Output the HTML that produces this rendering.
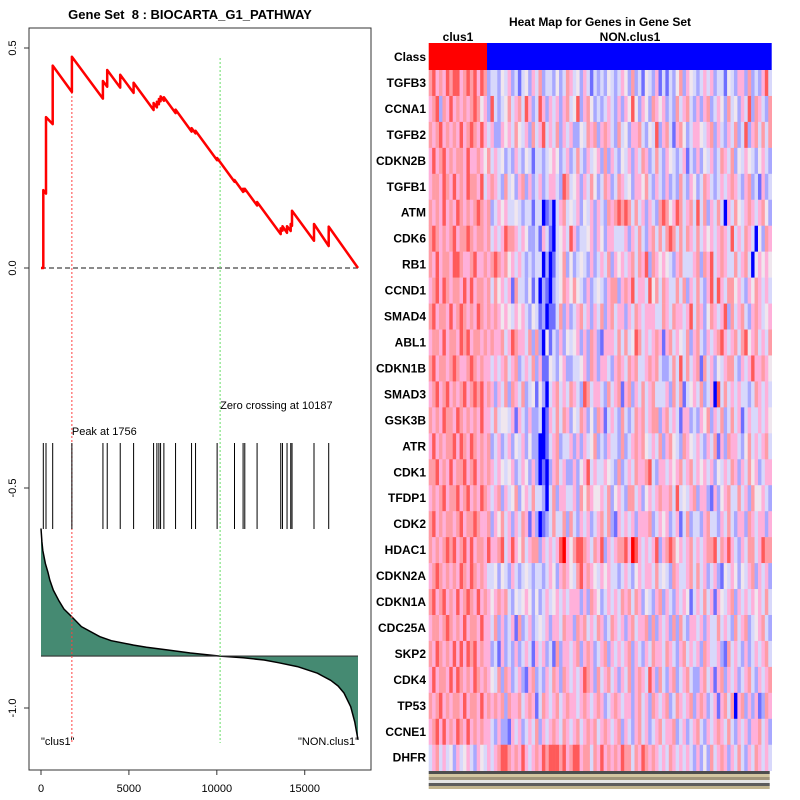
<!DOCTYPE html>
<html><head><meta charset="utf-8">
<style>
html,body{margin:0;padding:0;background:#fff;}
svg{display:block;font-family:"Liberation Sans",sans-serif;}
</style></head>
<body>
<svg id="chart" width="800" height="800" viewBox="0 0 800 800" xmlns="http://www.w3.org/2000/svg">
<rect width="800" height="800" fill="#fff"/>
<text x="190" y="19" font-size="13" font-weight="bold" text-anchor="middle" xml:space="preserve" style="white-space:pre">Gene Set  8 : BIOCARTA_G1_PATHWAY</text>
<rect x="29" y="28" width="342" height="742" fill="none" stroke="#333" stroke-width="1"/>
<g id="left"></g>
<text x="600" y="26" font-size="12" font-weight="bold" text-anchor="middle">Heat Map for Genes in Gene Set</text>
<text x="458" y="41" font-size="12" font-weight="bold" text-anchor="middle">clus1</text>
<text x="630" y="41" font-size="12" font-weight="bold" text-anchor="middle">NON.clus1</text>
<g id="heat"></g>
</svg>
<script>
// ---- data ----
const hitRanks=[131,284,665,1756,3523,3767,4506,5267,6403,6591,6705,6801,6989,7653,8563,8790,10017,11006,11494,11591,12290,13636,13733,13994,14205,14278,15528,16364];
const esPre=[0,0.169,0.327,0.40,0.385,0.412,0.41,0.398,0.359,0.365,0.372,0.379,0.38,0.352,0.31,0.306,0.245,0.196,0.173,0.175,0.142,0.077,0.085,0.08,0.084,0.096,0.062,0.05];
const esPost=[0.177,0.343,0.46,0.48,0.425,0.45,0.439,0.421,0.375,0.378,0.384,0.39,0.388,0.36,0.318,0.312,0.25,0.2,0.18,0.18,0.15,0.09,0.095,0.095,0.1,0.13,0.1,0.094];
const totalGenes=18030;
const peakRank=1756;
const zeroCross=10187;
const metricRanks=[0,50,100,250,400,500,700,1000,1300,1756,2300,3352,4000,5265,6000,7159,8500,10187,11500,12689,13500,14583,15720,16000,16477,16900,17235,17614,17850,18030];
const metricVals=[0.29,0.26,0.24,0.21,0.19,0.173,0.15,0.127,0.107,0.089,0.067,0.044,0.035,0.025,0.02,0.014,0.007,0,-0.004,-0.009,-0.015,-0.024,-0.039,-0.045,-0.055,-0.068,-0.084,-0.115,-0.15,-0.19];
const yTicks=[0.5,0.0,-0.5,-1.0];
const yTickLabels=["0.5","0.0","-0.5","-1.0"];
const xTicks=[0,5000,10000,15000];
const xTickLabels=["0","5000","10000","15000"];
const genes=["TGFB3","CCNA1","TGFB2","CDKN2B","TGFB1","ATM","CDK6","RB1","CCND1","SMAD4","ABL1","CDKN1B","SMAD3","GSK3B","ATR","CDK1","TFDP1","CDK2","HDAC1","CDKN2A","CDKN1A","CDC25A","SKP2","CDK4","TP53","CCNE1","DHFR"];
const heatRows=[
"6756576775676757623324352313425362332423653425313232432354262314325131324625432353523314325526232573",
"5672657565656764527323463563752375253525634725642323532525474254265452326356325256235426342537265326",
"6567565657567657535225453643526357353625352243656256532634255632437256315642355435625325362372563636",
"5756756566575565463534232532431332345423523632534526253243525365236325432351325243523653624354324532",
"5665765756576657356532634256252352355327634525364236523653425546325325232632542365323535653256231523",
"6565756576565676562354533432331330120356343524352532656767636352532676457635637362536305364356535642",
"6765656756676566563535766535422315310345375233452542553335253632563636763636536354535653735365304265",
"6575665776556755656765645353232330201346242343252353625453563657265454325633356265735653363563045454",
"5675765665757566563645351633241302102346546432523432566256573553746365336362536325737536645325465353",
"6756657567656576565654543545324312011362523563525362563552536535553365365535736524653572635632565345",
"5665756657675665656556357655362620413252434525265215553636347635356515635436256325356753563674563536",
"6756656765567656553535635623536251143245223345265255325653656335656322363736356163524356632535755654",
"5675675656756767565253626536234142035635365327635532635615625363563335263613453623507363535332365353",
"6565766576565657553634435153252230153636524365242651353263236563566256353155232546253623635135335354",
"5756566757657656562352352435242200135623352525346232533262356564353625643265435325361526553246353563",
"6675657566756756565354345235425201025635225245735335432623536556732553545635635453524353652536452355",
"5656756675675657653562534624536332036255335264654453624532663524535655637343562552152456336352644532",
"6756566567566765562546352536515201236336263253523563621535352555623545235136233256332536325526535525",
"6565676756757566575567357546356625353578546776536572535667587535357256764535635356673657532536635766",
"5676565657657656533424325323432332354256543675654354533235324535536343265335636352352143542435625352",
"6756756575676575654565632434542423534535355525265423535365636524325625325354135363515435625353545363",
"5665676565756657553625235162352343525536552656353652365352563556262535262632553525336353263562345632",
"6576565757576756552315232523531535231625535625652356253535625325365536532563535265335216353252353563",
"5756657576565765654362652352156232536526535357652635635253625653752632562356322563515625352356325356",
"6567565665756657565656265563565136535635655356535652356535525635265356236535625652351563605625251265",
"5675756576575656553252215352353625356536535635656356535625325635235635562352356325356536325352556352",
"3563534253453254353567765657535657677767567756636575656576636576565353653535325242635652536325365353"
];
const classSplit=17;
// ---- left plot ----
const NS="http://www.w3.org/2000/svg";
function mk(tag,attrs,parent){const e=document.createElementNS(NS,tag);for(const k in attrs)e.setAttribute(k,attrs[k]);parent.appendChild(e);return e;}
const X0=41,X1=358;
function xs(r){return X0+(r/totalGenes)*(X1-X0);}
function ys(v){return 268-v*440;}
const L=document.getElementById('left');
const baseV=-0.882;
function ms(v){return ys(baseV+v);}
let d="M"+xs(0)+","+ms(0);
metricRanks.forEach((r,i)=>{d+=" L"+xs(r).toFixed(1)+","+ms(metricVals[i]).toFixed(1);});
d+=" L"+xs(totalGenes)+","+ms(0)+" Z";
let area=mk('path',{d:d,fill:'#458a72',stroke:'none'},L);


let d2="M"+xs(metricRanks[0])+","+ms(metricVals[0]);
metricRanks.forEach((r,i)=>{d2+=" L"+xs(r).toFixed(1)+","+ms(metricVals[i]).toFixed(1);});
let mline=mk('path',{d:d2,fill:'none',stroke:'#000','stroke-width':1.5,'stroke-linejoin':'round'},L);


let bl=mk('line',{x1:xs(0),x2:xs(totalGenes),y1:ms(0),y2:ms(0),stroke:'#333','stroke-width':1.2},L);


let zl=mk('line',{x1:xs(0),x2:xs(totalGenes),y1:ys(0),y2:ys(0),stroke:'#444','stroke-width':1.2,'stroke-dasharray':'5,3'},L);


const pi=hitRanks.indexOf(peakRank);
let pl=mk('line',{x1:xs(peakRank),x2:xs(peakRank),y1:ys(pi>=0?esPre[pi]:0.4),y2:743,stroke:'#ff4040','stroke-width':1,'stroke-dasharray':'2,2'},L);


let gl=mk('line',{x1:xs(zeroCross),x2:xs(zeroCross),y1:58,y2:743,stroke:'#66dd66','stroke-width':1,'stroke-dasharray':'2,2'},L);


hitRanks.forEach(r=>{
  const h=mk('line',{x1:xs(r),x2:xs(r),y1:443,y2:529,stroke:'#000','stroke-width':1},L);
  
  
});
let e="M"+xs(0)+","+ys(0);
hitRanks.forEach((r,i)=>{e+=" L"+xs(r).toFixed(1)+","+ys(esPre[i]).toFixed(1)+" L"+xs(r).toFixed(1)+","+ys(esPost[i]).toFixed(1);});
e+=" L"+xs(totalGenes)+","+ys(0);
let es=mk('path',{d:e,fill:'none',stroke:'#ff0000','stroke-width':2.5,'stroke-linejoin':'round'},L);


yTicks.forEach((v,i)=>{
  const t=mk('line',{x1:24,x2:29,y1:ys(v),y2:ys(v),stroke:'#333'},L);
  
  
  const tx=mk('text',{x:0,y:0,'font-size':11,'text-anchor':'middle',transform:'translate(16,'+ys(v)+') rotate(-90)'},L);
  tx.textContent=yTickLabels[i];
  
  
});
xTicks.forEach((v,i)=>{
  const t=mk('line',{x1:xs(v),x2:xs(v),y1:770,y2:775,stroke:'#333'},L);
  
  
  const tx=mk('text',{x:xs(v),y:792,'font-size':11,'text-anchor':'middle'},L);
  tx.textContent=xTickLabels[i];
  
  
});
function lab(x,y,txt,anchor,name){const t=mk('text',{x:x,y:y,'font-size':11,'text-anchor':anchor},L);t.textContent=txt;}
lab(xs(peakRank),435,"Peak at "+peakRank,'start','peak-label');
lab(xs(zeroCross),409,"Zero crossing at "+zeroCross,'start','zero-crossing-label');
lab(41,745,'"clus1"','start','clus1-end-label');
lab(359,745,'"NON.clus1"','end','non-clus1-end-label');
// ---- heatmap ----
const H=document.getElementById('heat');
const HX0=428.7,HX1=771.7,NC=100,cw=(HX1-HX0)/NC,HY0=70,rh=(770.7-HY0)/genes.length;
const pal=["#0000ff","#6e6eff","#a8a8ff","#d8d8fb","#f0e6ee","#ffb0da","#ff9ca6","#ff5a5a","#ff0000"];
let cr=mk('rect',{x:HX0,y:43,width:classSplit*cw,height:27,fill:'#ff0000'},H);


let cb=mk('rect',{x:HX0+classSplit*cw,y:43,width:(NC-classSplit)*cw,height:27,fill:'#0000ff'},H);


let cl=mk('text',{x:426,y:61,'font-size':12,'font-weight':'bold','text-anchor':'end'},H);
cl.textContent="Class";


heatRows.forEach((row,ri)=>{
  const y=HY0+ri*rh;
  for(let c=0;c<NC;c++){
    const v=parseInt(row[c%row.length]);
    const r=mk('rect',{x:(HX0+c*cw).toFixed(2),y:y.toFixed(2),width:(cw+0.3).toFixed(2),height:(rh+0.3).toFixed(2),fill:pal[v]},H);
    
    
  }
  const t=mk('text',{x:426,y:(y+rh/2+4).toFixed(1),'font-size':12,'font-weight':'bold','text-anchor':'end'},H);
  t.textContent=genes[ri];
  
  
});
const bandCols=["#222","#c8b88a","#8a7a5a","#ddd","#333","#b0a070"];
for(let i=0;i<6;i++){
  const b=mk('rect',{x:HX0,y:771+i*3,width:HX1-HX0-2,height:3,fill:bandCols[i],opacity:0.8},H);
  
  
}
</script>
</body></html>
